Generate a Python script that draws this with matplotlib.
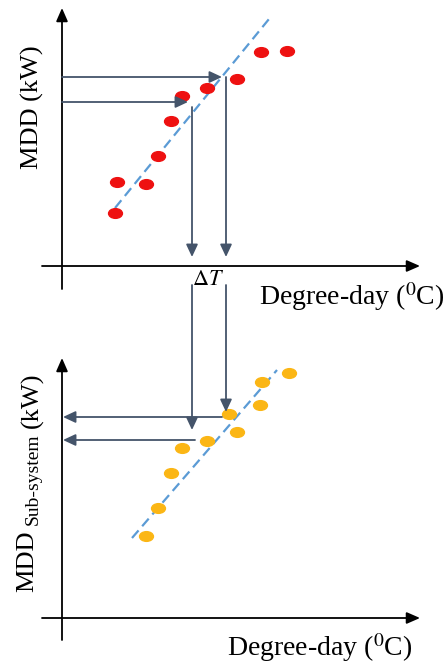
import matplotlib
matplotlib.use("Agg")
import matplotlib.pyplot as plt
from matplotlib.path import Path
from matplotlib.transforms import Affine2D
from matplotlib.patches import ConnectionPatch

plt.rcParams["font.family"] = ["Liberation Serif", "DejaVu Serif"]
plt.rcParams["mathtext.fontset"] = "stix"

# whole-system cloud (arbitrary units)
top_dd = [2.65, 2.75, 4.2, 4.8, 5.45, 6.0, 7.25, 8.75, 9.95, 11.25]
top_mdd = [2.65, 4.2, 4.1, 5.5, 7.25, 8.5, 8.9, 9.35, 10.7, 10.75]
top_fit_dd = [2.65, 10.35]
top_fit_mdd = [2.9, 12.35]

# sub-system cloud
sub_dd = [4.2, 4.8, 5.45, 6.0, 7.25, 8.35, 8.75, 9.9, 10.0, 11.35]
sub_mdd = [4.1, 5.5, 7.25, 8.5, 8.85, 10.2, 9.3, 10.65, 11.8, 12.25]
sub_fit_dd = [3.5, 10.75]
sub_fit_mdd = [4.0, 12.4]

# read-off levels
mdd_levels = [8.2, 9.45]        # top panel MDD values
dd_hit = [6.3, 8.0]             # where the horizontal arrows stop
dd_levels = [6.5, 8.2]          # degree-day values dropped down
sub_levels = [8.9, 10.05]       # resulting sub-system MDD
sub_start = [6.65, 8.0]

arrow_col = "#44546a"
ell = Path.unit_circle().transformed(Affine2D().scale(1.0, 0.7))

fig = plt.figure(figsize=(4.46, 6.63), dpi=100)
ax1 = fig.add_axes([30 / 446, 363 / 663, 400 / 446, 300 / 663])
ax2 = fig.add_axes([30 / 446, 0, 400 / 446, 333 / 663])
ax1.set_xlim(-1.6, 18.4)
ax1.set_ylim(-1.7, 13.3)
ax2.set_xlim(-1.6, 18.4)
ax2.set_ylim(-2.25, 14.4)

ax_arrow = dict(arrowstyle="-|>,head_length=0.8,head_width=0.35", color="black",
                lw=1.3, shrinkA=0, shrinkB=0, mutation_scale=10)
gray_arrow = dict(arrowstyle="-|>,head_length=0.75,head_width=0.35", color=arrow_col,
                  lw=1.3, shrinkA=0, shrinkB=0, mutation_scale=10)

for ax, ybot, ytop in [(ax1, -1.15, 12.9), (ax2, -1.1, 13.0)]:
    ax.axis("off")
    ax.annotate("", xy=(17.9, 0), xytext=(-1.0, 0), arrowprops=ax_arrow)
    ax.annotate("", xy=(0, ytop), xytext=(0, ybot), arrowprops=ax_arrow)

# top panel
ax1.plot(top_fit_dd, top_fit_mdd, color="#5b9bd5", lw=1.6, dashes=(4.5, 2.5))
ax1.scatter(top_dd, top_mdd, marker=ell, s=100, color="#ee1111", zorder=3)
for lev, hit in zip(mdd_levels, dd_hit):
    ax1.annotate("", xy=(hit, lev), xytext=(0, lev), arrowprops=gray_arrow)
ax1.annotate("", xy=(dd_levels[0], 0.45), xytext=(dd_levels[0], 7.95), arrowprops=gray_arrow)
ax1.annotate("", xy=(dd_levels[1], 0.45), xytext=(dd_levels[1], mdd_levels[1]), arrowprops=gray_arrow)
ax1.text(7.3, -0.75, r"$\Delta T$", fontsize=16, ha="center", va="center")
ax1.text(14.5, -1.55, r"Degree-day ($^{0}$C)", fontsize=20, ha="center", va="center")
ax1.text(-1.5, 7.95, "MDD (kW)", fontsize=19, rotation=90, ha="center", va="center")

# bottom panel
ax2.plot(sub_fit_dd, sub_fit_mdd, color="#5b9bd5", lw=1.6, dashes=(4.5, 2.5))
ax2.scatter(sub_dd, sub_mdd, marker=ell, s=100, color="#fbb615", zorder=3)
for lev, st in zip(sub_levels, sub_start):
    ax2.annotate("", xy=(0.05, lev), xytext=(st, lev), arrowprops=gray_arrow)
ax2.text(12.9, -1.5, r"Degree-day ($^{0}$C)", fontsize=20, ha="center", va="center")

# vertical drops linking the two panels
for x, yend in zip(dd_levels, [9.4, 10.3]):
    con = ConnectionPatch(xyA=(x, -0.95), coordsA=ax1.transData,
                          xyB=(x, yend), coordsB=ax2.transData,
                          arrowstyle="-|>,head_length=0.75,head_width=0.35",
                          color=arrow_col, lw=1.3, mutation_scale=10)
    fig.add_artist(con)

# rotated y label with smaller "Sub-system"
lab_kw = dict(rotation=90, rotation_mode="anchor", ha="left", va="baseline")
t1 = ax2.text(-1.45, 1.3, "MDD", fontsize=19, **lab_kw)
t2 = ax2.annotate("Sub-system", xy=(1, 1), xycoords=t1, xytext=(0, 4),
                  textcoords="offset points", fontsize=14, **lab_kw)
t3 = ax2.annotate("(kW)", xy=(1, 1), xycoords=(t1, t2), xytext=(0, 4),
                  textcoords="offset points", fontsize=19, **lab_kw)

fig.savefig("out.png", dpi=100)
